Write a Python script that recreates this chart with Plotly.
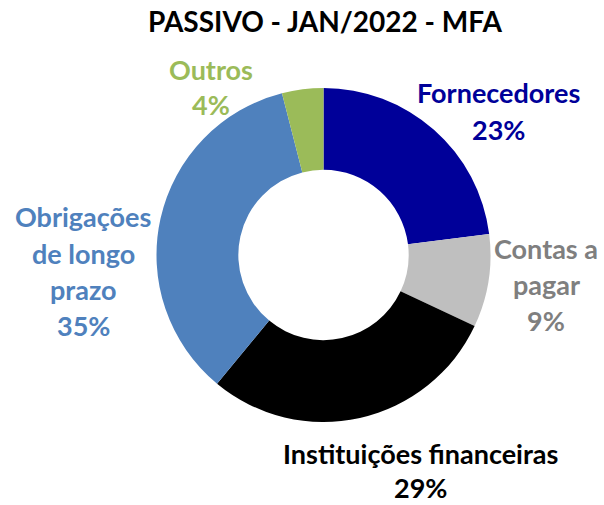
import plotly.graph_objects as go

# Liabilities breakdown, Jan/2022 (percent)
categories = ['Fornecedores', 'Contas a pagar', 'Instituições financeiras',
              'Obrigações de longo prazo', 'Outros']
values = [23, 9, 29, 35, 4]

slice_colors = ['#000099', '#bfbfbf', '#000000', '#4f81bd', '#9bbb59']
label_colors = ['#000099', '#7f7f7f', '#000000', '#4f81bd', '#9bbb59']

# label lines per slice (text wrapped like the original)
label_lines = [
    ['Fornecedores'],
    ['Contas a', 'pagar'],
    ['Instituições financeiras'],
    ['Obrigações', 'de longo', 'prazo'],
    ['Outros'],
]

W, H = 604, 505
cx, cy, r = 323.5, 255, 167

fig = go.Figure(go.Pie(
    labels=categories,
    values=values,
    hole=0.51,
    sort=False,
    direction='clockwise',
    rotation=0,
    marker=dict(colors=slice_colors, line=dict(width=0)),
    textinfo='none',
    hoverinfo='label+percent',
    domain=dict(x=[(cx - r) / W, (cx + r) / W],
                y=[1 - (cy + r) / H, 1 - (cy - r) / H]),
))

# label anchor: pixel position of first line centre, and line step
label_pos = [(498, 93, 36), (546, 248, 36), (420, 453, 34), (83, 217, 36), (211, 69, 36)]

font_family = 'Lato'
annotations = []
for lines, val, col, (px, py, step) in zip(label_lines, values, label_colors, label_pos):
    for i, txt in enumerate(lines + [f'{val}%']):
        annotations.append(dict(
            x=px / W, y=1 - (py + i * step) / H,
            xref='paper', yref='paper', showarrow=False,
            xanchor='center', yanchor='middle',
            text=f'<b>{txt}</b>',
            font=dict(family=font_family, size=27, color=col),
        ))

annotations.append(dict(
    x=325 / W, y=1 - 21 / H, xref='paper', yref='paper',
    showarrow=False, xanchor='center', yanchor='middle',
    text='<b>PASSIVO - JAN/2022 - MFA</b>',
    font=dict(family=font_family, size=28, color='#000000'),
))

fig.update_layout(
    width=W, height=H,
    margin=dict(l=0, r=0, t=0, b=0),
    paper_bgcolor='white',
    plot_bgcolor='white',
    showlegend=False,
    annotations=annotations,
)

# drop the default page margin so the figure fills the window
fig.write_html("out.html", config={'displayModeBar': False},
               post_script="document.body.style.margin='0';")
